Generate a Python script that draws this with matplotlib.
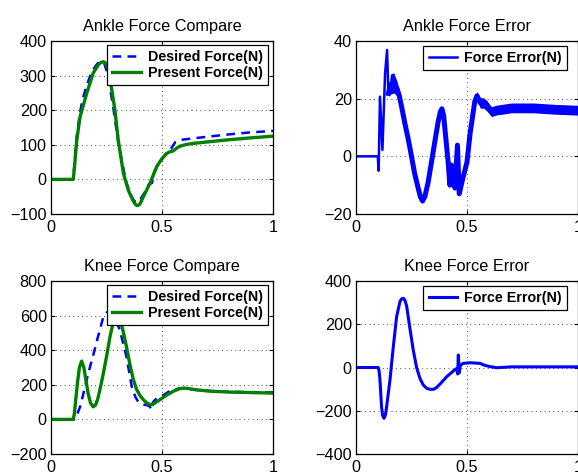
import numpy as np
import matplotlib
matplotlib.use("Agg")
import matplotlib.pyplot as plt

plt.rcParams['font.family'] = ['Liberation Sans', 'DejaVu Sans']

# ankle force compare
t_ank_des = [0, 0.10, 0.105, 0.115, 0.13, 0.14, 0.16, 0.18, 0.20, 0.21, 0.22, 0.23, 0.24,
             0.25, 0.26, 0.28, 0.30, 0.32, 0.34, 0.36, 0.37, 0.38, 0.39, 0.40, 0.41, 0.42,
             0.44, 0.455, 0.465, 0.48, 0.50, 0.52, 0.54, 0.56, 0.58, 0.62, 0.70, 0.80,
             0.90, 1.0]
ank_des = [0, 0, 40, 120, 190, 225, 270, 305, 327, 335, 341, 342, 335,
           315, 285, 210, 120, 50, -10, -45, -58, -65, -66, -60, -50, -40,
           -15, -10, 20, 40, 60, 75, 88, 108, 114, 117, 123, 130,
           136, 140]
t_ank_pre = [0, 0.10, 0.105, 0.116, 0.131, 0.161, 0.19, 0.213, 0.225, 0.236, 0.245, 0.255,
             0.266, 0.288, 0.303, 0.326, 0.348, 0.37, 0.38, 0.389, 0.40, 0.416, 0.446,
             0.476, 0.50, 0.521, 0.536, 0.55, 0.565, 0.581, 0.61, 0.64, 0.79, 0.90, 1.0]
ank_pre = [0, 0, 30, 113, 181, 249, 307, 331, 338, 340, 337, 325,
           292, 200, 113, 18, -31, -62, -72, -76, -72, -50, -11,
           37, 60, 75, 80, 82, 90, 96, 101, 104, 114, 120, 125]

# ankle force error (centre line and half width of the ripple band)
t_ank_err = [0, 0.098, 0.102, 0.108, 0.119, 0.131, 0.14, 0.146, 0.155, 0.17, 0.185, 0.195,
             0.206, 0.22, 0.236, 0.25, 0.264, 0.28, 0.29, 0.30, 0.31, 0.325, 0.34, 0.355,
             0.37, 0.38, 0.387, 0.395, 0.405, 0.415, 0.423, 0.43, 0.446, 0.457, 0.465,
             0.48, 0.50, 0.514, 0.535, 0.545, 0.56, 0.575, 0.59, 0.61, 0.63, 0.70, 0.80,
             0.90, 1.0]
ank_err = [0, 0, -5, 20.7, 2.2, 28.8, 36.9, 21.8, 25, 25.5, 23.5, 21,
           17, 11.5, 5.7, 0, -5.9, -11, -14, -15.5, -14, -9, -2, 5,
           12, 15.5, 16.5, 14, 6, -2, -10, -3, -11, 3.9, -13,
           -8, -2, 8, 19, 21, 18.5, 18.5, 17.5, 15.5, 16, 16.8, 16.8,
           16.3, 16]
ank_rip = [0, 0, 0, 0, 0, 0, 0, 0, 3.5, 3.5, 2.5, 1.5,
           0.5, 0.3, 0.3, 0.3, 0.3, 0.3, 0.3, 0.3, 0.3, 0.3, 0.3, 0.3,
           0.3, 0.3, 0.3, 0.3, 0.3, 0.3, 0.3, 0.3, 0.3, 0.3, 0.3,
           0.3, 0.3, 0.3, 0.8, 1.5, 1.8, 1.8, 1.8, 1.7, 1.7, 1.7, 1.7,
           1.7, 1.7]

# knee force compare
t_knee_des = [0, 0.105, 0.115, 0.131, 0.15, 0.163, 0.176, 0.19, 0.20, 0.21, 0.22, 0.236,
              0.25, 0.265, 0.28, 0.295, 0.31, 0.325, 0.34, 0.352, 0.364, 0.38, 0.39,
              0.401, 0.415, 0.43, 0.445, 0.452, 0.46, 0.476, 0.50, 0.536, 0.58, 0.60,
              0.64, 0.70, 0.79, 0.90, 1.0]
knee_des = [0, 0, 20, 73, 170, 240, 305, 370, 420, 470, 517, 594,
            618, 620, 600, 565, 517, 440, 362, 275, 189, 130, 108,
            93, 86, 83, 75, 54, 100, 122, 135, 165, 180, 180,
            172, 165, 160, 157, 156]
t_knee_pre = [0, 0.10, 0.105, 0.112, 0.12, 0.128, 0.138, 0.148, 0.158, 0.168, 0.178, 0.19,
              0.20, 0.21, 0.22, 0.235, 0.25, 0.266, 0.28, 0.296, 0.31, 0.325, 0.34, 0.355,
              0.37, 0.385, 0.40, 0.415, 0.43, 0.446, 0.46, 0.48, 0.50, 0.52, 0.55, 0.58,
              0.60, 0.62, 0.66, 0.72, 0.80, 0.90, 1.0]
knee_pre = [0, 0, 30, 120, 220, 300, 337, 300, 220, 145, 95, 73,
            82, 115, 170, 260, 362, 480, 560, 600, 580, 510, 420, 320,
            235, 175, 140, 115, 97, 85, 88, 105, 122, 140, 162, 178,
            181, 178, 170, 163, 158, 155, 152]

# knee force error
t_knee_err = [0, 0.10, 0.104, 0.108, 0.115, 0.12, 0.126, 0.132, 0.138, 0.153, 0.168, 0.183,
              0.198, 0.206, 0.213, 0.22, 0.228, 0.243, 0.258, 0.273, 0.288, 0.303, 0.318,
              0.333, 0.348, 0.36, 0.38, 0.409, 0.44, 0.454, 0.458, 0.461, 0.465, 0.47,
              0.483, 0.514, 0.559, 0.58, 0.604, 0.634, 0.70, 0.80, 0.90, 1.0]
knee_err = [0, 0, -15, -58, -181, -222, -235, -222, -181, -58, 96, 235,
            305, 318, 320, 312, 285, 180, 80, 0, -50, -81, -96,
            -101, -101, -95, -75, -42, -15, -4, -30, 58, -25, 10,
            19, 22, 19, 10, 4, -1, 3, 3, 3, 3]

x_ticks = [0, 0.5, 1]
blue = (0, 0, 1)
green = (0, 0.5, 0)

fig = plt.figure(figsize=(5.78, 4.76), dpi=100)
W, H = 578.0, 476.0
aw, ah = 222 / W, 173 / H
ax_tl = fig.add_axes([51 / W, (H - 214) / H, aw, ah])
ax_tr = fig.add_axes([356 / W, (H - 214) / H, aw, ah])
ax_bl = fig.add_axes([51 / W, (H - 454) / H, aw, ah])
ax_br = fig.add_axes([356 / W, (H - 454) / H, aw, ah])


def style(ax, title, yticks):
    ax.set_xlim(0, 1)
    ax.set_ylim(yticks[0], yticks[-1])
    ax.set_xticks(x_ticks)
    ax.set_xticklabels(['0', '0.5', '1'])
    ax.set_yticks(yticks)
    ax.tick_params(direction='in', length=3, width=0.8, top=True, right=True,
                   labelsize=11.7, pad=4)
    ax.tick_params(axis='y', pad=3)
    ax.grid(True, color='0.3', linestyle=(0, (1, 3.5)), linewidth=0.7)
    for s in ax.spines.values():
        s.set_linewidth(0.9)
    ax.set_title(title, fontsize=11.7, pad=7)


def legend(ax, anchor):
    leg = ax.legend(loc='upper right', bbox_to_anchor=anchor, borderaxespad=0,
                    fancybox=False, framealpha=1, edgecolor='black',
                    prop={'weight': 'bold', 'size': 10.3}, handlelength=2.0,
                    handletextpad=0.5, borderpad=0.35, labelspacing=0.15)
    leg.get_frame().set_linewidth(0.9)


ax_tl.plot(t_ank_des, ank_des, color=blue, ls=(0, (3.5, 2.5)), lw=1.8, label='Desired Force(N)')
ax_tl.plot(t_ank_pre, ank_pre, color=green, lw=2.4, label='Present Force(N)')
style(ax_tl, 'Ankle Force Compare', [-100, 0, 100, 200, 300, 400])
legend(ax_tl, (0.977, 0.977))

# ripple band, then the thin start and the thick (ripple) part of the line
lo = np.array(ank_err) - np.array(ank_rip)
hi = np.array(ank_err) + np.array(ank_rip)
ax_tr.fill_between(t_ank_err, lo, hi, color=blue, lw=0)
ax_tr.plot(t_ank_err[:8], ank_err[:8], color=blue, lw=1.8, label='Force Error(N)')
ax_tr.plot(t_ank_err[7:], ank_err[7:], color=blue, lw=3.6, solid_joinstyle='round')
style(ax_tr, 'Ankle Force Error', [-20, 0, 20, 40])
legend(ax_tr, (0.95, 0.971))

ax_bl.plot(t_knee_des, knee_des, color=blue, ls=(0, (3.5, 2.5)), lw=1.8, label='Desired Force(N)')
ax_bl.plot(t_knee_pre, knee_pre, color=green, lw=2.4, label='Present Force(N)')
style(ax_bl, 'Knee Force Compare', [-200, 0, 200, 400, 600, 800])
legend(ax_bl, (0.977, 0.977))

ax_br.plot(t_knee_err, knee_err, color=blue, lw=2.2, label='Force Error(N)')
style(ax_br, 'Knee Force Error', [-400, -200, 0, 200, 400])
legend(ax_br, (0.95, 0.971))

fig.savefig('out.png', dpi=100)
